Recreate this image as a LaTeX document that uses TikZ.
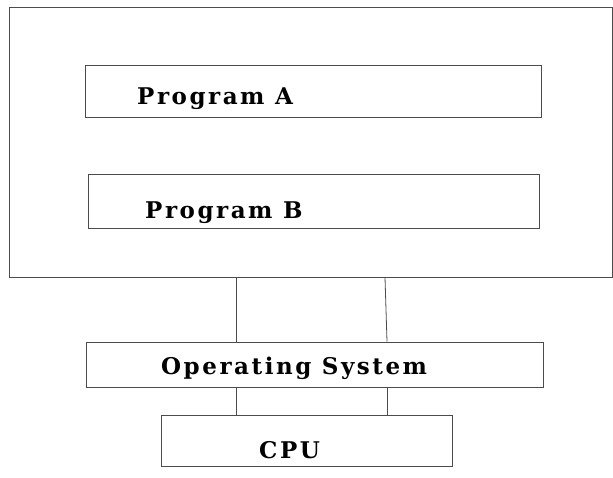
\documentclass[tikz,border=0pt]{standalone}
\usepackage{fontspec}
\newfontfamily\boxfont[LetterSpace=11]{DejaVu Serif}
\usetikzlibrary{positioning}

\begin{document}
\begin{tikzpicture}[x=1pt,y=-1pt]
\tikzset{
    boxframe/.style={draw=black!70, line width=0.8pt, inner sep=0pt},
    boxlabel/.style={anchor=base west, inner sep=0pt, font=\boxfont\bfseries\fontsize{23}{27}\selectfont},
    wire/.style={draw=black!70, line width=0.8pt}
}
\useasboundingbox (0,0) rectangle (613,477);

% memory with the two programs
\node[boxframe, minimum width=603pt, minimum height=270pt] (mem) at (310.5,142) {};
\node[boxframe, minimum width=456pt, minimum height=52pt] (progA) at (313,91) {};
\node[boxframe, minimum width=451pt, minimum height=54pt] (progB) at (313.5,201) {};

% operating system and cpu
\node[boxframe, minimum width=457pt, minimum height=45pt] (os) at (314.5,364.5) {};
\node[boxframe, minimum width=291pt, minimum height=51pt] (cpu) at (306.5,440.5) {};

\node[boxlabel] (labA) at (137,104) {Program A};
\node[boxlabel] (labB) at (145,218) {Program B};
\node[boxlabel] (labOS) at (161,374) {Operating System};
\node[boxlabel] (labCPU) at (259,458) {CPU};

% connecting lines
\coordinate (memL) at (236,0 |- mem.south);
\coordinate (memR) at (385,0 |- mem.south);
\coordinate (osR) at (387,0 |- os.north);
\draw[wire] (memL) -- (memL |- os.north);
\draw[wire] (memR) -- (osR);
\coordinate (cpuL) at (236,0 |- cpu.north);
\coordinate (cpuR) at (387,0 |- cpu.north);
\draw[wire] (cpuL |- os.south) -- (cpuL);
\draw[wire] (cpuR |- os.south) -- (cpuR);

\end{tikzpicture}
\end{document}
